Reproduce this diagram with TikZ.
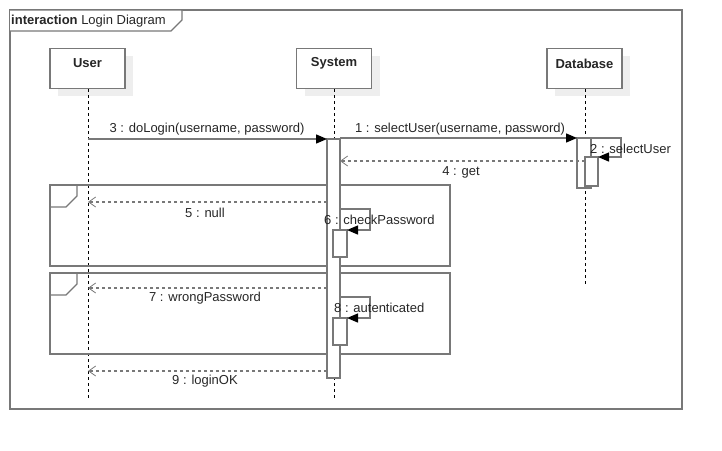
\documentclass[tikz,border=0pt]{standalone}
\usepackage{fontspec}
\setmainfont{Liberation Sans}
\usetikzlibrary{arrows.meta}
\definecolor{ln}{RGB}{120,120,120}
\definecolor{shd}{RGB}{238,238,238}
\begin{document}
\begin{tikzpicture}[x=1pt,y=-1pt,
  every node/.style={font=\fontsize{13}{15}\selectfont, text=black!85, inner sep=0pt},
  frm/.style={draw=ln, line width=1.3pt},
  head/.style={draw=ln, line width=1.5pt, fill=white, minimum width=75pt, minimum height=40pt},
  hlbl/.style={font=\fontsize{13}{15}\selectfont\bfseries},
  life/.style={draw=black, line width=0.8pt, dash pattern=on 3pt off 3pt},
  act/.style={draw=ln, line width=1.3pt, fill=white},
  call/.style={draw=ln, line width=1.3pt, -{Triangle[length=11pt,width=9pt,fill=black,color=black]}},
  ret/.style={draw=ln, line width=1.3pt, dash pattern=on 3pt off 3pt, -{Straight Barb[length=7pt,width=10pt,line width=0.8pt]}}
]
\useasboundingbox (0,0) rectangle (722,450);
% outer frame
\draw[frm] (10,10) rectangle (682,409);
\draw[frm, fill=white] (10,10) -- (182,10) -- (182,20) -- (171,31) -- (10,31);
\node[anchor=west] (title) at (11,21.5) {\textbf{interaction} Login Diagram};
% heads
\fill[shd] (58,56) rectangle (133,96);
\fill[shd] (305,56) rectangle (380,96);
\fill[shd] (555,56) rectangle (630,96);
\node[head] (user) at (87.5,68.5) {};
\node[head] (sys) at (334,68.5) {};
\node[head] (db) at (584.5,68.5) {};
\node[hlbl] (userl) at (87.5,63.5) {User};
\node[hlbl] (sysl) at (334,63.5) {System};
\node[hlbl] (dbl) at (584.5,63.5) {Database};
% lifelines
\coordinate (userend) at (88,398);
\coordinate (sysend) at (334,398);
\coordinate (dbend) at (585,285);
\draw[life] (user.south) ++(0.5,0) -- (userend);
\draw[life] (sys.south) -- (sysend);
\draw[life] (db.south) ++(0.5,0) -- (dbend);
% fragments
\draw[frm] (50,185) rectangle (450,266);
\draw[frm] (50,207) -- (50,185) -- (77,185) -- (77,196) -- (66,207) -- cycle;
\draw[frm] (50,273) rectangle (450,354);
\draw[frm] (50,295) -- (50,273) -- (77,273) -- (77,284) -- (66,295) -- cycle;
% activations
\draw[act] (327,139) rectangle (340,378);
\draw[act] (577,138) rectangle (591,188);
\draw[act] (585,157) rectangle (598,186);
\draw[act] (333,230) rectangle (347,257);
\draw[act] (333,318) rectangle (347,345);
% coordinates
\coordinate (u3) at (88,139); \coordinate (s3) at (327,139);
\coordinate (s1) at (340,138); \coordinate (d1) at (577,138);
\coordinate (d4) at (585,161); \coordinate (s4) at (340,161);
\coordinate (s5) at (327,202); \coordinate (u5) at (88,202);
\coordinate (s7) at (327,288); \coordinate (u7) at (88,288);
\coordinate (s9) at (327,371); \coordinate (u9) at (88,371);
% messages
\draw[call] (u3) -- (s3);
\node (m3) at (207,129.5) {3 : doLogin(username, password)};
\draw[call] (s1) -- (d1);
\node (m1) at (460,129) {1 : selectUser(username, password)};
\draw[call] (591,138) -- (621,138) -- (621,157) -- (598,157);
\node[anchor=west] (m2) at (590,148.5) {2 : selectUser};
\draw[ret] (d4) -- (s4);
\node (m4) at (461,172.5) {4 : get};
\draw[ret] (s5) -- (u5);
\node (m5) at (205,212.5) {5 : null};
\draw[call] (340,209) -- (370,209) -- (370,230) -- (347,230);
\node[anchor=west] (m6) at (324,219.5) {6 : checkPassword};
\draw[ret] (s7) -- (u7);
\node (m7) at (205,298.5) {7 : wrongPassword};
\draw[call] (340,297) -- (370,297) -- (370,318) -- (347,318);
\node[anchor=west] (m8) at (334,307.5) {8 : autenticated};
\draw[ret] (s9) -- (u9);
\node (m9) at (205,381.5) {9 : loginOK};
\end{tikzpicture}
\end{document}
